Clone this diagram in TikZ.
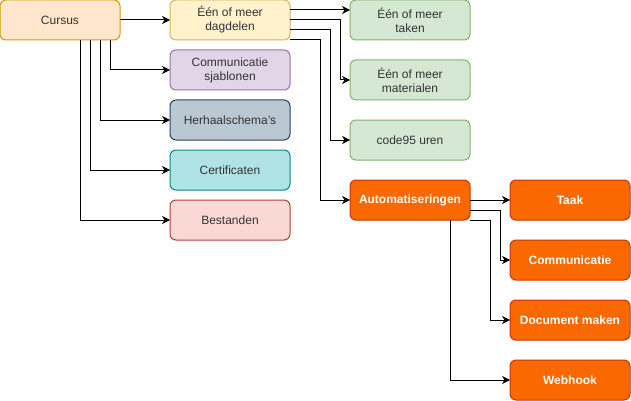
\documentclass[tikz,border=0pt]{standalone}
\usepackage{fontspec}
\setmainfont{Liberation Sans}
\usetikzlibrary{arrows.meta}
\definecolor{curF}{HTML}{FFE6CC}\definecolor{curD}{HTML}{D79B00}
\definecolor{dagF}{HTML}{FFF2CC}\definecolor{dagD}{HTML}{D6B656}
\definecolor{comF}{HTML}{E1D5E7}\definecolor{comD}{HTML}{9673A6}
\definecolor{herF}{HTML}{BAC8D3}\definecolor{herD}{HTML}{23445D}
\definecolor{cerF}{HTML}{B0E3E6}\definecolor{cerD}{HTML}{0E8088}
\definecolor{besF}{HTML}{FAD9D5}\definecolor{besD}{HTML}{AE4132}
\definecolor{grF}{HTML}{D5E8D4}\definecolor{grD}{HTML}{82B366}
\definecolor{orF}{HTML}{FA6800}\definecolor{orD}{HTML}{C73500}
\begin{document}
\begin{tikzpicture}[x=1pt,y=-1pt,
  box/.style={draw, line width=1pt, rounded corners=6pt, minimum width=120pt, minimum height=40pt,
    anchor=north west, outer sep=0pt, inner sep=2pt, align=center,
    font=\fontsize{12}{14}\selectfont, text=black!80},
  obox/.style={box, fill=orF, draw=orD, text=white, font=\fontsize{12}{14}\selectfont\bfseries},
  arr/.style={line width=1pt, -{Stealth[length=8pt,width=8pt,inset=2.5pt]}}]
\useasboundingbox (0,0) rectangle (631,401);
\node[box, fill=curF, draw=curD] (cur) at (0,0) {Cursus};
\node[box, fill=dagF, draw=dagD] (dag) at (170,0) {Één of meer\\dagdelen};
\node[box, fill=comF, draw=comD] (com) at (170,50) {Communicatie\\sjablonen};
\node[box, fill=herF, draw=herD] (her) at (170,100) {Herhaalschema's};
\node[box, fill=cerF, draw=cerD] (cer) at (170,150) {Certificaten};
\node[box, fill=besF, draw=besD] (bes) at (170,200) {Bestanden};
\node[box, fill=grF, draw=grD] (tak) at (350,0) {Één of meer\\taken};
\node[box, fill=grF, draw=grD] (mat) at (350,60) {Één of meer\\materialen};
\node[box, fill=grF, draw=grD] (code) at (350,120) {code95 uren};
\node[obox] (auto) at (350,180) {Automatiseringen};
\node[obox] (taak) at (510,180) {Taak};
\node[obox] (comm) at (510,240) {Communicatie};
\node[obox] (doc) at (510,300) {Document maken};
\node[obox] (web) at (510,360) {Webhook};
\draw[arr] (cur.east) -- (dag.west);
\draw[arr] ([xshift=-10pt]cur.south east) |- (com.west);
\draw[arr] ([xshift=-20pt]cur.south east) |- (her.west);
\draw[arr] ([xshift=-30pt]cur.south east) |- (cer.west);
\draw[arr] ([xshift=-40pt]cur.south east) |- (bes.west);
\draw[arr] ([yshift=10pt]dag.east) -- ([yshift=10pt]tak.west);
\draw[arr] (dag.east) -- ++(50,0) |- (mat.west);
\draw[arr] ([yshift=-10pt]dag.east) -- ++(40,0) |- (code.west);
\draw[arr] (dag.south east) -- ++(30,0) |- (auto.west);
\draw[arr] (auto.east) -- (taak.west);
\draw[arr] ([yshift=-10pt]auto.east) -- ++(30,0) |- (comm.west);
\draw[arr] (auto.south east) -- ++(20,0) |- (doc.west);
\draw[arr] ([xshift=-20pt]auto.south east) |- (web.west);
\end{tikzpicture}
\end{document}
